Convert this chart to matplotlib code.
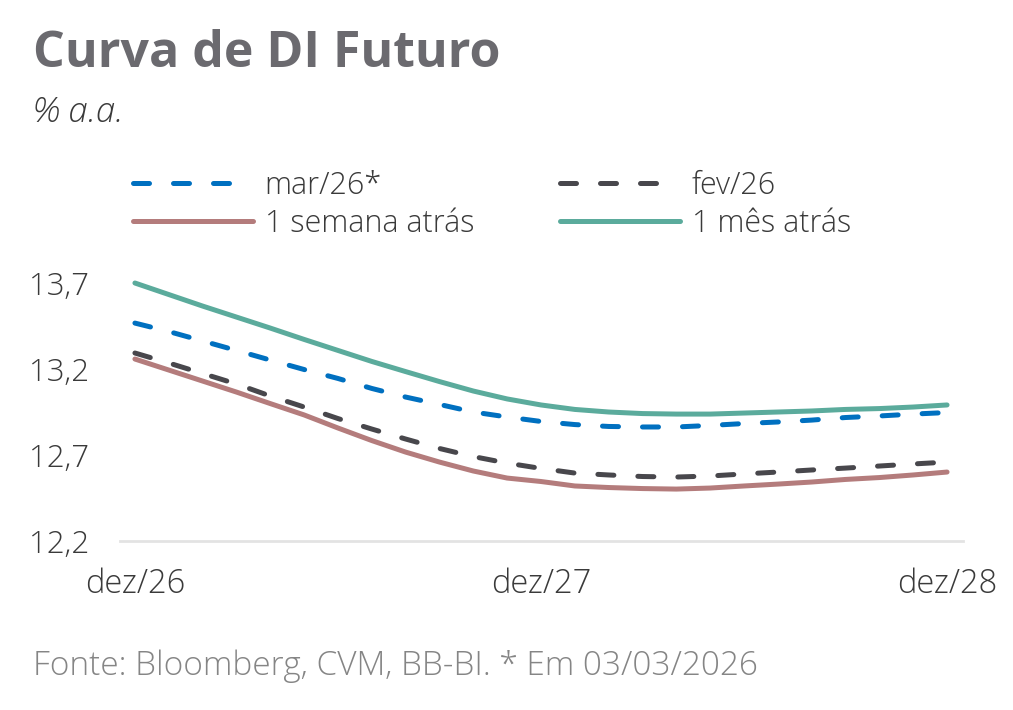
import matplotlib
matplotlib.use("Agg")
import matplotlib.pyplot as plt

# months counted from dez/26 (0) to dez/28 (24)
months = list(range(25))
tick_pos = [0, 12, 24]
tick_labels = ["dez/26", "dez/27", "dez/28"]
y_ticks = [12.2, 12.7, 13.2, 13.7]

mar26 = [13.467, 13.418, 13.363, 13.308, 13.252, 13.197, 13.145, 13.087, 13.037,
         12.994, 12.950, 12.921, 12.895, 12.877, 12.866, 12.863, 12.863, 12.872,
         12.883, 12.892, 12.903, 12.918, 12.927, 12.938, 12.947]
fev26 = [13.293, 13.235, 13.174, 13.113, 13.043, 12.979, 12.912, 12.851, 12.793,
         12.738, 12.691, 12.653, 12.622, 12.595, 12.584, 12.575, 12.572, 12.578,
         12.590, 12.601, 12.613, 12.624, 12.636, 12.648, 12.659]
semana = [13.258, 13.194, 13.130, 13.066, 12.999, 12.933, 12.857, 12.784, 12.717,
          12.659, 12.607, 12.566, 12.546, 12.520, 12.511, 12.505, 12.502, 12.508,
          12.520, 12.531, 12.543, 12.558, 12.569, 12.584, 12.601]
mes = [13.700, 13.633, 13.566, 13.502, 13.438, 13.372, 13.308, 13.244, 13.185,
       13.127, 13.072, 13.026, 12.991, 12.965, 12.950, 12.941, 12.938, 12.938,
       12.944, 12.950, 12.956, 12.965, 12.970, 12.979, 12.991]

FONT = "Open Sans"
TEXT = "#3a3a3a"


def main():
    fig = plt.figure(figsize=(10.13, 7.10), dpi=100)
    ax = fig.add_axes([0.1185, 0.2380, 0.8321, 0.3634])

    lw = 3.6
    dash = (3.2, 4.8)
    l1, = ax.plot(months, mar26, color="#0070c0", lw=lw, dashes=dash,
                  dash_capstyle="round", label="mar/26*", clip_on=False)
    l2, = ax.plot(months, fev26, color="#48474c", lw=lw, dashes=dash,
                  dash_capstyle="round", label="fev/26", clip_on=False)
    l3, = ax.plot(months, semana, color="#b47c7c", lw=lw, solid_joinstyle="round",
                  solid_capstyle="round", label="1 semana atrás", clip_on=False)
    l4, = ax.plot(months, mes, color="#5bab9c", lw=lw, solid_joinstyle="round",
                  solid_capstyle="round", label="1 mês atrás", clip_on=False)

    ax.set_xlim(-0.44, 24.47)
    ax.set_ylim(12.2, 13.7)
    ax.set_xticks(tick_pos)
    ax.set_xticklabels(tick_labels)
    ax.set_yticks(y_ticks)
    ax.set_yticklabels([f"{v:.1f}".replace(".", ",") for v in y_ticks])
    for lab in ax.get_xticklabels():
        lab.set_fontsize(23.5)
    for lab in ax.get_yticklabels():
        lab.set_fontsize(22.5)
    for lab in ax.get_xticklabels() + ax.get_yticklabels():
        lab.set_fontfamily(FONT)
        lab.set_color(TEXT)
        lab.set_fontweight("light")
    ax.tick_params(length=0)
    ax.tick_params(axis="x", pad=19)
    ax.tick_params(axis="y", pad=22)

    for s in ["top", "right", "left"]:
        ax.spines[s].set_visible(False)
    ax.spines["bottom"].set_color("#e3e3e3")
    ax.spines["bottom"].set_linewidth(2)

    fig.text(0.033, 0.905, "Curva de DI Futuro", fontsize=36, fontweight="bold",
             color="#6b6a6f", fontfamily=FONT)
    fig.text(0.033, 0.828, "% a.a.", fontsize=25, style="italic",
             color=TEXT, fontfamily=FONT, fontweight="light")
    fig.text(0.033, 0.049, "Fonte: Bloomberg, CVM, BB-BI. * Em 03/03/2026",
             fontsize=24, color="#858585", fontfamily=FONT, fontweight="light")

    leg = fig.legend(handles=[l1, l3, l2, l4], ncol=2, loc="upper left",
                     bbox_to_anchor=(0.131, 0.761), frameon=False,
                     handlelength=3.93, handletextpad=0.39, columnspacing=2.8,
                     labelspacing=0.2, borderaxespad=0, borderpad=0,
                     prop={"family": FONT, "size": 22, "weight": "light"})
    for t in leg.get_texts():
        t.set_color(TEXT)

    fig.savefig("out.png", dpi=100)


if __name__ == "__main__":
    main()
